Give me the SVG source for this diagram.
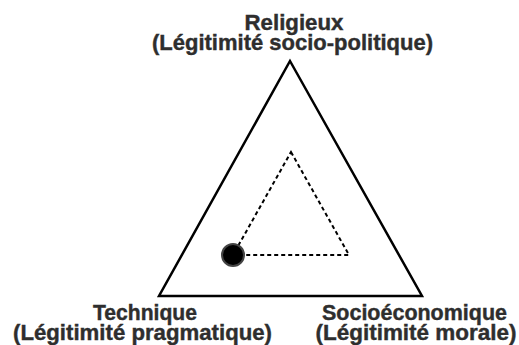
<svg xmlns="http://www.w3.org/2000/svg" width="519" height="345" viewBox="0 0 519 345">
<style>
.lbl{font-family:"Liberation Sans",Arial,sans-serif;font-weight:bold;font-size:21.5px;fill:#2e2e2e;stroke:#2e2e2e;stroke-width:0.4;text-anchor:middle}
.outer{fill:none;stroke:#000;stroke-width:2.5;stroke-linejoin:miter}
.inner{fill:none;stroke:#000;stroke-width:2;stroke-dasharray:4 3}
</style>
<rect width="519" height="345" fill="#fff"/>
<g id="connectors">
<polygon class="outer" points="290,61 422,296 159,296"/>
<polygon class="inner" points="291,152 349,255 233,255"/>
</g>
<g id="point">
<circle cx="233" cy="255" r="11" fill="#000" stroke="#444" stroke-width="2"/>
</g>
<g id="religieux">
<text class="lbl"><tspan x="294" y="30" textLength="99" lengthAdjust="spacingAndGlyphs">Religieux</tspan><tspan x="292.5" y="50" textLength="281" lengthAdjust="spacingAndGlyphs">(Légitimité socio-politique)</tspan></text>
</g>
<g id="technique">
<text class="lbl"><tspan x="145" y="320" textLength="104" lengthAdjust="spacingAndGlyphs">Technique</tspan><tspan x="142.5" y="340" textLength="259" lengthAdjust="spacingAndGlyphs">(Légitimité pragmatique)</tspan></text>
</g>
<g id="socioeconomique">
<text class="lbl"><tspan x="414.5" y="320" textLength="185" lengthAdjust="spacingAndGlyphs">Socioéconomique</tspan><tspan x="416" y="340" textLength="201" lengthAdjust="spacingAndGlyphs">(Légitimité morale)</tspan></text>
</g>
</svg>
